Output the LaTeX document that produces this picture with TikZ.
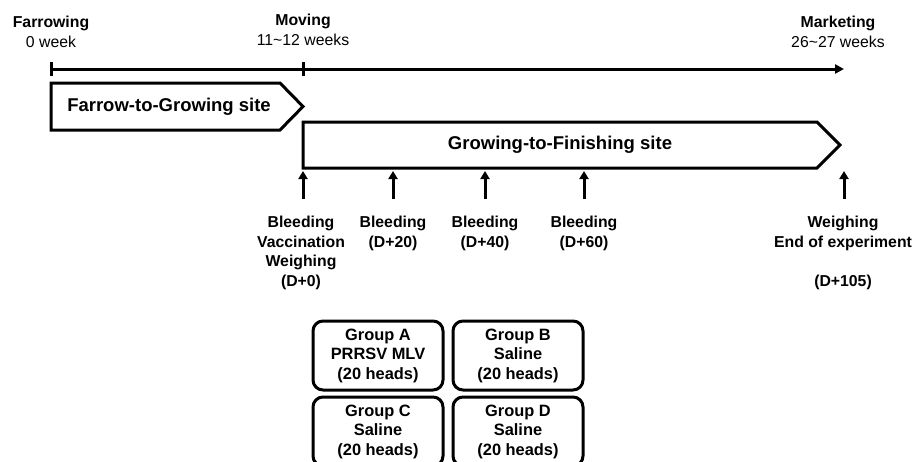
\documentclass[tikz,border=0pt]{standalone}
\usepackage{fontspec}
\setmainfont{Liberation Sans}
\usetikzlibrary{positioning,arrows.meta}

\tikzset{
  txt/.style={font=\fontsize{15.8}{19.5}\selectfont, align=center, inner sep=0pt},
  btxt/.style={txt, font=\bfseries\fontsize{15.8}{19.5}\selectfont},
  site/.style={font=\bfseries\fontsize{18.5}{22}\selectfont, inner sep=0pt, outer sep=0pt},
  grp/.style={btxt, font=\bfseries\fontsize{16.4}{19.5}\selectfont, draw, line width=3pt, rounded corners=10pt, minimum width=130pt, minimum height=69pt, outer sep=0pt},
  thickline/.style={line width=3pt},
  uparrow/.style={thickline, -{Triangle[length=8pt,width=9pt]}},
}

\begin{document}
\begin{tikzpicture}[x=1pt, y=-1pt]
  \useasboundingbox (0,0) rectangle (917,461);

  % time axis
  \coordinate (t0) at (51,69);
  \coordinate (tmove) at (303,69);
  \coordinate (tend) at (844,69);
  \draw [thickline, -{Triangle[length=9pt,width=9pt]}] (t0) -- (tend);
  \draw [thickline] (t0) ++(0,-7) -- ++(0,14);
  \draw [thickline] (tmove) ++(0,-7) -- ++(0,14);

  \node [txt] (farrow) at (51,32) {\textbf{Farrowing}\\0 week};
  \node [txt] (moving) at (303,30) {\textbf{Moving}\\11\textasciitilde12 weeks};
  \node [txt] (market) at (838,32) {\textbf{Marketing}\\26\textasciitilde27 weeks};

  % sites
  \node [site, minimum width=229pt, minimum height=47pt] (fgs) at (165.5,106.5) {};
  \node [site] at (169,107) {Farrow-to-Growing site};
  \draw [thickline] (fgs.north west) -- (fgs.north east) -- ([xshift=23pt]fgs.east)
    -- (fgs.south east) -- (fgs.south west) -- cycle;

  \node [site, minimum width=514pt, minimum height=46pt] (gfs) at (560,145) {Growing-to-Finishing site};
  \draw [thickline] (gfs.north west) -- (gfs.north east) -- ([xshift=23pt]gfs.east)
    -- (gfs.south east) -- (gfs.south west) -- cycle;

  % sampling days
  \node [btxt, anchor=north] (d0) at (301,216) {Bleeding\\Vaccination\\Weighing\\(D+0)};
  \node [btxt, anchor=north] (d20) at (393,216) {Bleeding\\(D+20)};
  \node [btxt, anchor=north] (d40) at (485,216) {Bleeding\\(D+40)};
  \node [btxt, anchor=north] (d60) at (584,216) {Bleeding\\(D+60)};
  \node [btxt, anchor=north] (d105) at (843,216) {Weighing\\End of experiment\\[19.5pt](D+105)};

  \draw [uparrow] (d0.north -| gfs.south west) ++(0,-17) -- ++(0,-28);
  \draw [uparrow] (d20.north) ++(0,-17) -- ++(0,-28);
  \draw [uparrow] (d40.north) ++(0,-17) -- ++(0,-28);
  \draw [uparrow] (d60.north) ++(0,-17) -- ++(0,-28);
  \draw [uparrow] (d105.north) ++(1,-17) -- ++(0,-28);

  % groups
  \node [grp] (ga) at (378,355.5) {Group A\\PRRSV MLV\\(20 heads)};
  \node [grp, right=10pt of ga] (gb) {Group B\\Saline\\(20 heads)};
  \node [grp, below=7pt of ga] (gc) {Group C\\Saline\\(20 heads)};
  \node [grp, right=10pt of gc] (gd) {Group D\\Saline\\(20 heads)};
\end{tikzpicture}
\end{document}
